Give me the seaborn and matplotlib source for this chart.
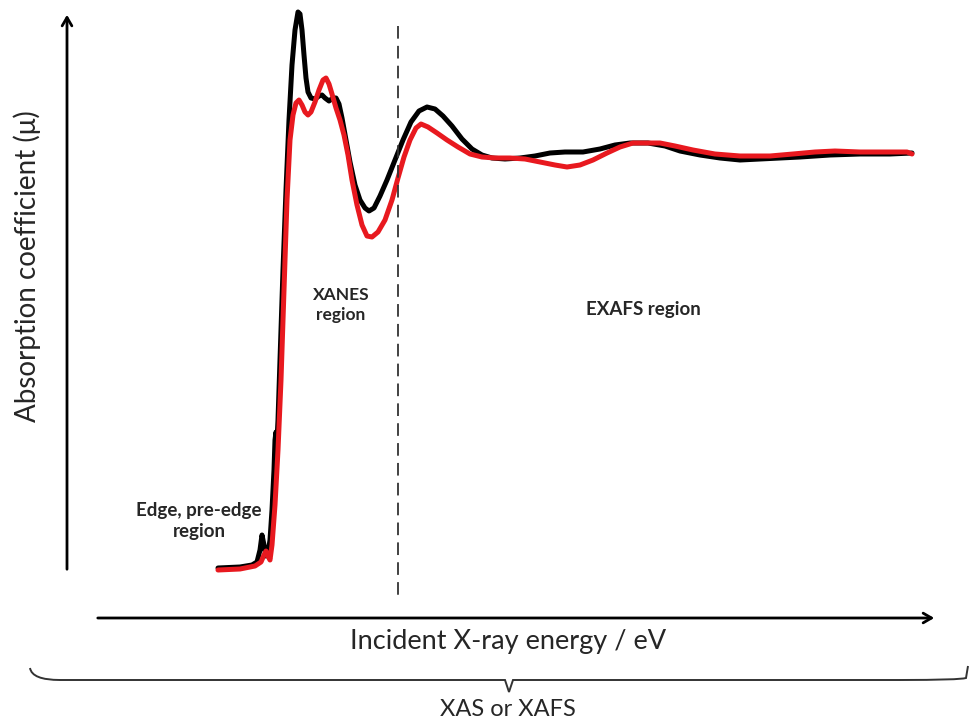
import numpy as np
import pandas as pd
import matplotlib
matplotlib.use("Agg")
import matplotlib.pyplot as plt
from matplotlib.path import Path
from matplotlib.patches import PathPatch
import seaborn as sns

# Sample A (black) – energy position vs. absorption (image-like units, y grows downward)
energy_black = [218, 240, 252, 257, 260, 262, 264, 266, 268, 270, 272, 274, 275, 276, 277, 278, 280, 283,
                286, 289, 292, 295, 298, 300, 302, 304, 306, 308, 311, 315, 319, 322, 325, 329, 333, 336,
                339, 342, 346, 350, 355, 360, 365, 369, 374, 380, 387, 395, 403, 411, 419, 427, 435, 443,
                452, 462, 472, 482, 492, 505, 520, 535, 550, 565, 583, 600, 615, 630, 648, 665, 680, 700,
                720, 740, 760, 780, 800, 830, 860, 890, 912]
mu_black = [568, 567, 565, 562, 550, 535, 545, 556, 553, 540, 510, 470, 440, 432, 440, 420, 360, 270,
            190, 120, 65, 30, 12, 14, 30, 55, 78, 92, 98, 99, 96, 95, 98, 101, 98, 98,
            104, 118, 140, 162, 185, 200, 208, 211, 208, 196, 180, 160, 140, 122, 111, 107, 109, 116,
            126, 139, 149, 155, 158, 159, 158, 156, 153, 152, 152, 149, 145, 143, 143, 146, 151, 155,
            158, 160, 159, 158, 157, 155, 154, 154, 153]

# Sample B (red)
energy_red = [218, 240, 255, 261, 264, 266, 268, 270, 272, 275, 278, 281, 284, 287, 290, 293, 296, 299,
              302, 305, 308, 311, 315, 319, 323, 326, 329, 332, 336, 340, 344, 348, 352, 357, 362, 367,
              372, 378, 385, 392, 398, 404, 410, 416, 421, 428, 437, 447, 458, 470, 482, 495, 510, 525,
              540, 555, 567, 580, 593, 607, 620, 633, 647, 660, 675, 693, 715, 740, 770, 793, 815, 835,
              860, 885, 907, 912]
mu_red = [570, 569, 566, 562, 555, 551, 556, 560, 545, 505, 450, 380, 290, 200, 140, 115, 103, 100,
          105, 112, 115, 112, 102, 90, 80, 78, 84, 94, 108, 120, 135, 155, 180, 205, 225, 236,
          237, 232, 220, 200, 178, 157, 140, 128, 124, 127, 133, 140, 147, 154, 157, 158, 158, 159,
          162, 165, 167, 165, 160, 153, 147, 143, 143, 143, 146, 150, 154, 156, 156, 154, 152, 151,
          152, 152, 152, 154]

xanes_exafs_boundary = 398

df_black = pd.DataFrame({"energy": energy_black, "mu": mu_black})
df_red = pd.DataFrame({"energy": energy_red, "mu": mu_red})

sns.set_style("white")
plt.rcParams['font.family'] = ['Lato', 'DejaVu Sans']

fig = plt.figure(figsize=(9.75, 7.22), dpi=100)
ax = fig.add_axes([0, 0, 1, 1])
ax.set_xlim(0, 975)
ax.set_ylim(722, 0)
ax.axis("off")

sns.lineplot(data=df_black, x="energy", y="mu", ax=ax, color="black", lw=3.6, sort=False,
             solid_joinstyle="round", solid_capstyle="round")
sns.lineplot(data=df_red, x="energy", y="mu", ax=ax, color="#e8191f", lw=3.6, sort=False,
             solid_joinstyle="round", solid_capstyle="round")

# dashed boundary
ax.plot([xanes_exafs_boundary, xanes_exafs_boundary], [26, 601], color="#333333", lw=1.3,
        dashes=(7, 4))

# axis arrows
ax.annotate("", xy=(67, 12), xytext=(67, 572),
            arrowprops=dict(arrowstyle="->,head_length=0.6,head_width=0.35", lw=2, color="black"))
ax.annotate("", xy=(937, 618), xytext=(95, 618),
            arrowprops=dict(arrowstyle="->,head_length=0.6,head_width=0.35", lw=2, color="black"))

# texts
ax.text(27, 266, "Absorption coefficient (μ)", rotation=90, ha="center", va="center", fontsize=20)
ax.text(508, 642, "Incident X-ray energy / eV", ha="center", va="center", fontsize=19.5)
ax.text(341, 305, "XANES\nregion", ha="center", va="center", fontsize=12.5, fontweight="bold",
        linespacing=1.35)
ax.text(643, 310, "EXAFS region", ha="center", va="center", fontsize=13.5, fontweight="bold")
ax.text(199, 521, "Edge, pre-edge\nregion", ha="center", va="center", fontsize=13.5, fontweight="bold",
        linespacing=1.3)
ax.text(508, 709, "XAS or XAFS", ha="center", va="center", fontsize=17)

# brace
verts = [(30, 668), (32, 680), (60, 680), (120, 680),
         (440, 680), (480, 680), (505, 680), (509, 692),
         (513, 680), (540, 680), (580, 680), (900, 680),
         (960, 680), (966, 678), (968, 666)]
codes = [Path.MOVETO, Path.CURVE3, Path.CURVE3, Path.LINETO,
         Path.LINETO, Path.CURVE3, Path.CURVE3, Path.LINETO,
         Path.LINETO, Path.CURVE3, Path.CURVE3, Path.LINETO,
         Path.CURVE3, Path.CURVE3, Path.LINETO]
ax.add_patch(PathPatch(Path(verts, codes), fill=False, lw=1.4, edgecolor="#333333"))

fig.savefig("out.png", dpi=100)
